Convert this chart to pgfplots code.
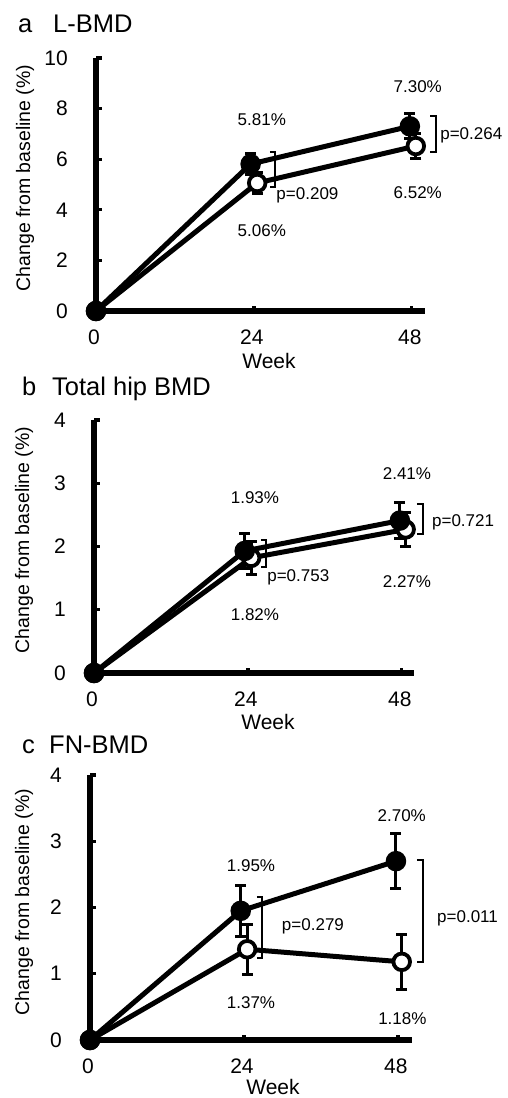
\documentclass[border=0pt]{standalone}
\usepackage{fontspec}
\setmainfont{Liberation Sans}
\usepackage{pgfplots}
\pgfplotsset{compat=1.18}
\usepackage{pgfplotstable}

\newcommand{\vfont}{\fontsize{17}{20}\selectfont}
\newcommand{\lfont}{\fontsize{19.5}{23}\selectfont}
\newcommand{\wfont}{\fontsize{21}{25}\selectfont}
\newcommand{\tfont}{\fontsize{25.5}{30}\selectfont}

% panel a
\pgfplotstableread{
x y e
0 0 0
23.5 5.81 0.40
47.7 7.30 0.50
}\aFil
\pgfplotstableread{
x y e
0 0 0
24.5 5.06 0.42
48.6 6.52 0.50
}\aOpn
% panel b
\pgfplotstableread{
x y e
0 0 0
23.5 1.93 0.27
47.7 2.41 0.28
}\bFil
\pgfplotstableread{
x y e
0 0 0
24.5 1.82 0.26
48.6 2.27 0.27
}\bOpn
% panel c
\pgfplotstableread{
x y e
0 0 0
23.5 1.95 0.38
47.7 2.70 0.42
}\cFil
\pgfplotstableread{
x y e
0 0 0
24.5 1.37 0.38
48.6 1.18 0.41
}\cOpn

\pgfplotsset{
  bmd/.style={
    scale only axis,
    enlargelimits=false,
    clip=false,
    axis x line*=bottom,
    axis y line*=left,
    axis line style={line width=5.5pt, line cap=butt},
    tick align=inside,
    major tick length=5.5pt,
    tick style={line width=3.3pt, black},
    xmin=0, xtick={0,24,48},
    ymin=0,
    /pgf/number format/assume math mode=true,
    tick label style={font=\wfont, inner sep=0pt},
    yticklabel style={anchor=east, xshift=-28pt},
    xticklabel style={anchor=center, yshift=-26pt, xshift=-2pt},
  },
  fil/.style={line width=5pt, black, mark=*, mark size=9pt,
     mark options={fill=black, draw=black, line width=2.5pt},
     error bars/.cd, y dir=both, y explicit,
     error mark=-,
     error bar style={line width=3pt, black},
     error mark options={rotate=90, line width=3pt, mark size=5.5pt, black}},
  opn/.style={line width=5pt, black, mark=*, mark size=8.3pt,
     mark options={fill=white, draw=black, line width=3.8pt},
     error bars/.cd, y dir=both, y explicit,
     error mark=-,
     error bar style={line width=3pt, black},
     error mark options={rotate=90, line width=3pt, mark size=5.5pt, black}},
}

\begin{document}
\begin{tikzpicture}
\useasboundingbox (0,0) rectangle (508pt,-1098pt);

% ---------------- panel a
\begin{axis}[bmd, at={(96pt,-311pt)}, anchor=south west,
  width=329pt, height=253pt, xmax=50, ymax=10, ytick={0,2,4,6,8,10}]
\addplot[opn] table[x=x, y=y, y error=e] {\aOpn};
\addplot[fil] table[x=x, y=y, y error=e] {\aFil};
\node[font=\vfont] at (axis cs:25.2,7.55) {5.81\%};
\node[font=\vfont] at (axis cs:25.2,3.16) {5.06\%};
\node[font=\vfont] at (axis cs:48.9,8.85) {7.30\%};
\node[font=\vfont] at (axis cs:48.9,4.66) {6.52\%};
\draw[line width=2pt] ([xshift=-5pt]axis cs:27.2,6.28) -- (axis cs:27.2,6.28) -- (axis cs:27.2,4.90) -- ([xshift=-5pt]axis cs:27.2,4.90);
\draw[line width=2pt] ([xshift=-6pt]axis cs:51.7,7.71) -- (axis cs:51.7,7.71) -- (axis cs:51.7,6.28) -- ([xshift=-6pt]axis cs:51.7,6.28);
\node[font=\vfont, anchor=west, inner sep=0pt] at (axis cs:27.4,4.58) {p=0.209};
\node[font=\vfont, anchor=west, inner sep=0pt] at (axis cs:52.3,6.96) {p=0.264};
\end{axis}
\node[font=\lfont, rotate=90, inner sep=0pt] at (25pt,-178pt) {Change from baseline (\%)};
\node[font=\wfont, inner sep=0pt] at (269pt,-361pt) {Week};
\node[font=\tfont, anchor=base west, inner sep=0pt] at (18pt,-32pt) {a};
\node[font=\tfont, anchor=base west, inner sep=0pt] at (53pt,-32pt) {L-BMD};

% ---------------- panel b
\begin{axis}[bmd, at={(94pt,-673pt)}, anchor=south west,
  width=320pt, height=253pt, xmax=49.9, ymax=4, ytick={0,1,2,3,4}]
\addplot[opn] table[x=x, y=y, y error=e] {\bOpn};
\addplot[fil] table[x=x, y=y, y error=e] {\bFil};
\node[font=\vfont] at (axis cs:25.1,2.78) {1.93\%};
\node[font=\vfont] at (axis cs:25.1,0.92) {1.82\%};
\node[font=\vfont] at (axis cs:48.8,3.16) {2.41\%};
\node[font=\vfont] at (axis cs:48.8,1.44) {2.27\%};
\draw[line width=2pt] ([xshift=-5pt]axis cs:26.8,2.10) -- (axis cs:26.8,2.10) -- (axis cs:26.8,1.68) -- ([xshift=-5pt]axis cs:26.8,1.68);
\draw[line width=2pt] ([xshift=-6pt]axis cs:51.3,2.67) -- (axis cs:51.3,2.67) -- (axis cs:51.3,2.20) -- ([xshift=-6pt]axis cs:51.3,2.20);
\node[font=\vfont, anchor=west, inner sep=0pt] at (axis cs:27.0,1.52) {p=0.753};
\node[font=\vfont, anchor=west, inner sep=0pt] at (axis cs:52.7,2.39) {p=0.721};
\end{axis}
\node[font=\lfont, rotate=90, inner sep=0pt] at (24pt,-540pt) {Change from baseline (\%)};
\node[font=\wfont, inner sep=0pt] at (268pt,-722pt) {Week};
\node[font=\tfont, anchor=base west, inner sep=0pt] at (22pt,-395pt) {b};
\node[font=\tfont, anchor=base west, inner sep=0pt] at (52pt,-395pt) {Total hip BMD};

% ---------------- panel c
\begin{axis}[bmd, at={(90pt,-1040pt)}, anchor=south west,
  width=322pt, height=265pt, xmax=50.2, ymax=4, ytick={0,1,2,3,4}]
\addplot[opn] table[x=x, y=y, y error=e] {\cOpn};
\addplot[fil] table[x=x, y=y, y error=e] {\cFil};
\node[font=\vfont] at (axis cs:25.1,2.63) {1.95\%};
\node[font=\vfont] at (axis cs:25.1,0.57) {1.37\%};
\node[font=\vfont] at (axis cs:48.6,3.38) {2.70\%};
\node[font=\vfont] at (axis cs:48.7,0.33) {1.18\%};
\draw[line width=1.5pt] ([xshift=-5pt]axis cs:26.8,2.16) -- (axis cs:26.8,2.16) -- (axis cs:26.8,1.24) -- ([xshift=-5pt]axis cs:26.8,1.24);
\draw[line width=1.5pt] ([xshift=-6pt]axis cs:51.9,2.72) -- (axis cs:51.9,2.72) -- (axis cs:51.9,1.18) -- ([xshift=-6pt]axis cs:51.9,1.18);
\node[font=\vfont, anchor=west, inner sep=0pt] at (axis cs:29.9,1.71) {p=0.279};
\node[font=\vfont, anchor=west, inner sep=0pt] at (axis cs:54.1,1.84) {p=0.011};
\end{axis}
\node[font=\lfont, rotate=90, inner sep=0pt] at (24pt,-902pt) {Change from baseline (\%)};
\node[font=\wfont, inner sep=0pt] at (273pt,-1087pt) {Week};
\node[font=\tfont, anchor=base west, inner sep=0pt] at (22pt,-753pt) {c};
\node[font=\tfont, anchor=base west, inner sep=0pt] at (49pt,-753pt) {FN-BMD};
\end{tikzpicture}
\end{document}
